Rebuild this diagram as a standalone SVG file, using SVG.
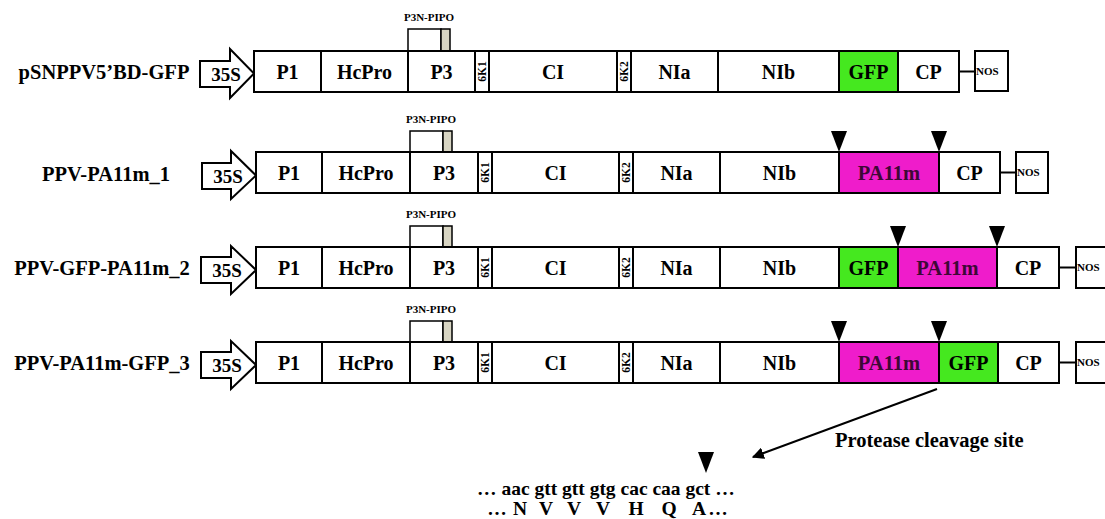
<svg xmlns="http://www.w3.org/2000/svg" width="1105" height="519" viewBox="0 0 1105 519">
<defs>
<style>
text{font-family:"Liberation Serif","Times New Roman",serif;font-weight:bold;fill:#000}
.seg{fill:#fff;stroke:#000;stroke-width:2}
.gfp{fill:#45e81f}
.pa{fill:#ef1ccb}
.pipo{fill:#fff;stroke:#000;stroke-width:1.5}
.gray{fill:#d8d5c3;stroke:#000;stroke-width:1.5}
.name{font-size:20.5px;text-anchor:middle}
.lbl{font-size:20px;text-anchor:middle}
.palbl{font-size:20.5px;text-anchor:middle;fill:#3e0836}
.small{font-size:11.5px;text-anchor:middle}
.pl{font-size:11px;text-anchor:middle}
.nos{font-size:11px}
.tri{fill:#000}
.prom{fill:#fff;stroke:#000;stroke-width:2;stroke-linejoin:miter}
.conn{stroke:#000;stroke-width:2;fill:none}
</style>
<marker id="ah" viewBox="0 0 10 10" refX="9" refY="5" markerWidth="6" markerHeight="6" orient="auto" markerUnits="strokeWidth">
<path d="M0,0 L10,5 L0,10 Z" fill="#000"/>
</marker>
</defs>

<!-- Row 1 -->
<g id="row1">
<text class="name" x="104" y="78.5">pSNPPV5’BD-GFP</text>
<g id="r1-35S"><path class="prom" d="M200,61 H230 V49 L254,73.5 L230,98 V87 H200 Z"/><text class="lbl" x="226" y="80.5" style="font-size:19px">35S</text></g>
<g id="r1-P3NPIPO"><text class="pl" x="429" y="21">P3N-PIPO</text><rect class="pipo" x="408" y="29" width="33" height="22"/><rect class="gray" x="441" y="29" width="9" height="22"/></g>
<g id="r1-P1"><rect class="seg" x="254" y="51" width="67" height="41"/><text class="lbl" x="287.5" y="78.5">P1</text></g>
<g id="r1-HcPro"><rect class="seg" x="321" y="51" width="87" height="41"/><text class="lbl" x="364.5" y="78.5">HcPro</text></g>
<g id="r1-P3"><rect class="seg" x="408" y="51" width="67" height="41"/><text class="lbl" x="441.5" y="78.5">P3</text></g>
<g id="r1-6K1"><rect class="seg" x="475" y="51" width="14" height="41"/><text class="small" transform="translate(486,71.5) rotate(-90)">6K1</text></g>
<g id="r1-CI"><rect class="seg" x="489" y="51" width="128" height="41"/><text class="lbl" x="553" y="78.5">CI</text></g>
<g id="r1-6K2"><rect class="seg" x="617" y="51" width="14" height="41"/><text class="small" transform="translate(628,71.5) rotate(-90)">6K2</text></g>
<g id="r1-NIa"><rect class="seg" x="631" y="51" width="87" height="41"/><text class="lbl" x="674.5" y="78.5">NIa</text></g>
<g id="r1-NIb"><rect class="seg" x="718" y="51" width="121" height="41"/><text class="lbl" x="778.5" y="78.5">NIb</text></g>
<g id="r1-GFP"><rect class="seg gfp" x="839" y="51" width="59" height="41"/><text class="lbl" x="868.5" y="78.5">GFP</text></g>
<g id="r1-CP"><rect class="seg" x="898" y="51" width="61" height="41"/><text class="lbl" x="928.5" y="78.5">CP</text></g>
<g id="r1-NOS"><rect class="seg" x="975" y="51" width="33" height="40"/><text class="nos" x="976" y="75">NOS</text></g>
</g>

<!-- Row 2 -->
<g id="row2">
<text class="name" x="106" y="180.5">PPV-PA11m_1</text>
<g id="r2-35S"><path class="prom" d="M202,163 H231 V151 L256,175.5 L231,199 V189 H202 Z"/><text class="lbl" x="228" y="182.5" style="font-size:19px">35S</text></g>
<g id="r2-P3NPIPO"><text class="pl" x="431" y="123">P3N-PIPO</text><rect class="pipo" x="410" y="131" width="33" height="21"/><rect class="gray" x="443" y="131" width="9" height="21"/></g>
<g id="r2-P1"><rect class="seg" x="256" y="152" width="66" height="41"/><text class="lbl" x="289" y="179.5">P1</text></g>
<g id="r2-HcPro"><rect class="seg" x="322" y="152" width="88" height="41"/><text class="lbl" x="366" y="179.5">HcPro</text></g>
<g id="r2-P3"><rect class="seg" x="410" y="152" width="68" height="41"/><text class="lbl" x="444" y="179.5">P3</text></g>
<g id="r2-6K1"><rect class="seg" x="478" y="152" width="14" height="41"/><text class="small" transform="translate(489,172.5) rotate(-90)">6K1</text></g>
<g id="r2-CI"><rect class="seg" x="492" y="152" width="127" height="41"/><text class="lbl" x="555.5" y="179.5">CI</text></g>
<g id="r2-6K2"><rect class="seg" x="619" y="152" width="14" height="41"/><text class="small" transform="translate(630,172.5) rotate(-90)">6K2</text></g>
<g id="r2-NIa"><rect class="seg" x="633" y="152" width="87" height="41"/><text class="lbl" x="676.5" y="179.5">NIa</text></g>
<g id="r2-NIb"><rect class="seg" x="720" y="152" width="119" height="41"/><text class="lbl" x="779.5" y="179.5">NIb</text></g>
<g id="r2-PA11m"><rect class="seg pa" x="839" y="152" width="100" height="41"/><text class="palbl" x="889" y="179.5">PA11m</text></g>
<g id="r2-CP"><rect class="seg" x="939" y="152" width="61" height="41"/><text class="lbl" x="969.5" y="179.5">CP</text></g>
<g id="r2-NOS"><rect class="seg" x="1016" y="152" width="32" height="41"/><text class="nos" x="1017" y="176">NOS</text></g>
<path class="tri" d="M831,131 H847 L839,152 Z"/>
<path class="tri" d="M931,131 H947 L939,152 Z"/>
</g>

<!-- Row 3 -->
<g id="row3">
<text class="name" x="102" y="274.5">PPV-GFP-PA11m_2</text>
<g id="r3-35S"><path class="prom" d="M201,257 H231 V246 L256,270 L231,294 V283 H201 Z"/><text class="lbl" x="227" y="277" style="font-size:19px">35S</text></g>
<g id="r3-P3NPIPO"><text class="pl" x="431" y="218">P3N-PIPO</text><rect class="pipo" x="410" y="226" width="33" height="21"/><rect class="gray" x="443" y="226" width="9" height="21"/></g>
<g id="r3-P1"><rect class="seg" x="256" y="247" width="66" height="41"/><text class="lbl" x="289" y="274.5">P1</text></g>
<g id="r3-HcPro"><rect class="seg" x="322" y="247" width="88" height="41"/><text class="lbl" x="366" y="274.5">HcPro</text></g>
<g id="r3-P3"><rect class="seg" x="410" y="247" width="68" height="41"/><text class="lbl" x="444" y="274.5">P3</text></g>
<g id="r3-6K1"><rect class="seg" x="478" y="247" width="14" height="41"/><text class="small" transform="translate(489,267.5) rotate(-90)">6K1</text></g>
<g id="r3-CI"><rect class="seg" x="492" y="247" width="127" height="41"/><text class="lbl" x="555.5" y="274.5">CI</text></g>
<g id="r3-6K2"><rect class="seg" x="619" y="247" width="14" height="41"/><text class="small" transform="translate(630,267.5) rotate(-90)">6K2</text></g>
<g id="r3-NIa"><rect class="seg" x="633" y="247" width="87" height="41"/><text class="lbl" x="676.5" y="274.5">NIa</text></g>
<g id="r3-NIb"><rect class="seg" x="720" y="247" width="119" height="41"/><text class="lbl" x="779.5" y="274.5">NIb</text></g>
<g id="r3-GFP"><rect class="seg gfp" x="839" y="247" width="59" height="41"/><text class="lbl" x="868.5" y="274.5">GFP</text></g>
<g id="r3-PA11m"><rect class="seg pa" x="898" y="247" width="99" height="41"/><text class="palbl" x="947.5" y="274.5">PA11m</text></g>
<g id="r3-CP"><rect class="seg" x="997" y="247" width="62" height="41"/><text class="lbl" x="1028" y="274.5">CP</text></g>
<g id="r3-NOS"><rect class="seg" x="1076" y="247" width="33" height="41"/><text class="nos" x="1077" y="271">NOS</text></g>
<path class="tri" d="M890,226 H906 L898,247 Z"/>
<path class="tri" d="M989,226 H1005 L997,247 Z"/>
</g>

<!-- Row 4 -->
<g id="row4">
<text class="name" x="102" y="369.5">PPV-PA11m-GFP_3</text>
<g id="r4-35S"><path class="prom" d="M201,352 H231 V341 L256,365 L231,389 V378 H201 Z"/><text class="lbl" x="227" y="372" style="font-size:19px">35S</text></g>
<g id="r4-P3NPIPO"><text class="pl" x="431" y="313">P3N-PIPO</text><rect class="pipo" x="410" y="321" width="33" height="21"/><rect class="gray" x="443" y="321" width="9" height="21"/></g>
<g id="r4-P1"><rect class="seg" x="256" y="342" width="66" height="41"/><text class="lbl" x="289" y="369.5">P1</text></g>
<g id="r4-HcPro"><rect class="seg" x="322" y="342" width="88" height="41"/><text class="lbl" x="366" y="369.5">HcPro</text></g>
<g id="r4-P3"><rect class="seg" x="410" y="342" width="68" height="41"/><text class="lbl" x="444" y="369.5">P3</text></g>
<g id="r4-6K1"><rect class="seg" x="478" y="342" width="14" height="41"/><text class="small" transform="translate(489,362.5) rotate(-90)">6K1</text></g>
<g id="r4-CI"><rect class="seg" x="492" y="342" width="127" height="41"/><text class="lbl" x="555.5" y="369.5">CI</text></g>
<g id="r4-6K2"><rect class="seg" x="619" y="342" width="14" height="41"/><text class="small" transform="translate(630,362.5) rotate(-90)">6K2</text></g>
<g id="r4-NIa"><rect class="seg" x="633" y="342" width="87" height="41"/><text class="lbl" x="676.5" y="369.5">NIa</text></g>
<g id="r4-NIb"><rect class="seg" x="720" y="342" width="119" height="41"/><text class="lbl" x="779.5" y="369.5">NIb</text></g>
<g id="r4-PA11m"><rect class="seg pa" x="839" y="342" width="100" height="41"/><text class="palbl" x="889" y="369.5">PA11m</text></g>
<g id="r4-GFP"><rect class="seg gfp" x="939" y="342" width="59" height="41"/><text class="lbl" x="968.5" y="369.5">GFP</text></g>
<g id="r4-CP"><rect class="seg" x="998" y="342" width="61" height="41"/><text class="lbl" x="1028.5" y="369.5">CP</text></g>
<g id="r4-NOS"><rect class="seg" x="1076" y="342" width="33" height="41"/><text class="nos" x="1077" y="366">NOS</text></g>
<path class="tri" d="M831,321 H847 L839,342 Z"/>
<path class="tri" d="M931,321 H947 L939,342 Z"/>
</g>

<!-- Connectors -->
<g id="connectors">
<line class="conn" x1="959" y1="71.5" x2="975" y2="71.5"/>
<line class="conn" x1="1000" y1="172.5" x2="1016" y2="172.5"/>
<line class="conn" x1="1059" y1="267.5" x2="1076" y2="267.5"/>
<line class="conn" x1="1059" y1="362.5" x2="1076" y2="362.5"/>
<line class="conn" x1="937" y1="389" x2="753" y2="457" marker-end="url(#ah)"/>
</g>

<!-- Cleavage site detail -->
<g id="cleavage">
<text x="835" y="447" style="font-size:20.5px">Protease cleavage site</text>
<path class="tri" d="M698,452 H714 L706,473 Z"/>
<text x="477" y="495" style="font-size:19.5px">… aac gtt gtt gtg cac caa gct …</text>
<g style="font-size:19.5px;text-anchor:middle">
<text x="497" y="515">…</text>
<text x="520" y="515">N</text>
<text x="546" y="515">V</text>
<text x="574" y="515">V</text>
<text x="603" y="515">V</text>
<text x="636" y="515">H</text>
<text x="669" y="515">Q</text>
<text x="699" y="515">A</text>
<text x="718" y="515">…</text>
</g>
</g>
</svg>
